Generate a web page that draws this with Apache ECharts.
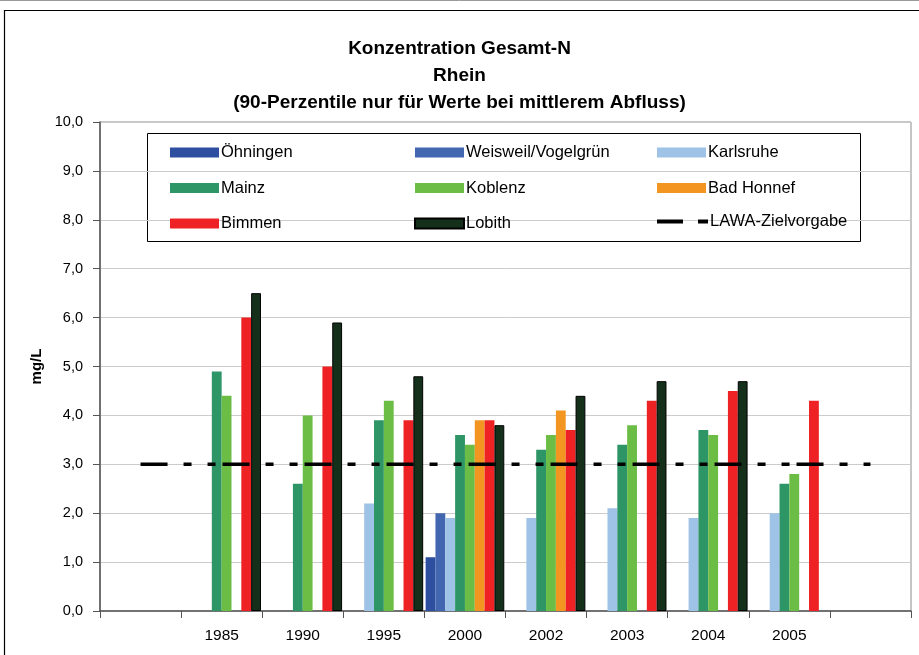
<!DOCTYPE html>
<html><head><meta charset="utf-8">
<script src="https://cdn.jsdelivr.net/npm/echarts@6/dist/echarts.min.js"></script>
<style>html,body{margin:0;padding:0;background:#fff}#c{width:919px;height:655px}</style>
</head><body><div id="c"></div>
<script>
var categories = ['', '1985', '1990', '1995', '2000', '2002', '2003', '2004', '2005', ''];
var yTicks = ['0,0','1,0','2,0','3,0','4,0','5,0','6,0','7,0','8,0','9,0','10,0'];
var oehningen = [null, null, null, null, 1.1, null, null, null, null, null];
var weisweil  = [null, null, null, null, 2.0, null, null, null, null, null];
var karlsruhe = [null, null, null, 2.2, 1.9, 1.9, 2.1, 1.9, 2.0, null];
var mainz     = [null, 4.9, 2.6, 3.9, 3.6, 3.3, 3.4, 3.7, 2.6, null];
var koblenz   = [null, 4.4, 4.0, 4.3, 3.4, 3.6, 3.8, 3.6, 2.8, null];
var badHonnef = [null, null, null, null, 3.9, 4.1, null, null, null, null];
var bimmen    = [null, 6.0, 5.0, 3.9, 3.9, 3.7, 4.3, 4.5, 4.3, null];
var lobith    = [null, 6.5, 5.9, 4.8, 3.8, 4.4, 4.7, 4.7, null, null];
var lawa      = [3.0, 3.0, 3.0, 3.0, 3.0, 3.0, 3.0, 3.0, 3.0, 3.0];

var FONT = '"Liberation Sans", Arial, sans-serif';
var chart = echarts.init(document.getElementById('c'));
function bar(name, data, color, border) {
  return {
    name: name, type: 'bar', data: data, barGap: '0%', barCategoryGap: '3%',
    itemStyle: border ? {color: color, borderColor: '#000', borderWidth: 1} : {color: color},
    emphasis: {disabled: true}, animation: false
  };
}
function legendCol(left, top, data, extra) {
  return Object.assign({
    orient: 'vertical', left: left, top: top, itemWidth: 49, itemHeight: 10, itemGap: 18.5,
    icon: 'rect', selectedMode: false,
    textStyle: {fontFamily: FONT, fontSize: 16.5, lineHeight: 16, color: '#000', padding: [0, 0, 0, -3]},
    data: data
  }, extra || {});
}
chart.setOption({
  animation: false,
  backgroundColor: '#fff',
  title: {
    text: 'Konzentration Gesamt-N\nRhein\n(90-Perzentile nur für Werte bei mittlerem Abfluss)',
    left: 'center', top: 30,
    textStyle: {fontFamily: FONT, fontSize: 19, fontWeight: 'bold', lineHeight: 27, color: '#000'}
  },
  legend: [
    legendCol(165, 139, ['Öhningen', 'Mainz', 'Bimmen']),
    legendCol(409, 139, ['Weisweil/Vogelgrün', 'Koblenz', 'Lobith']),
    legendCol(652, 139, ['Karlsruhe', 'Bad Honnef']),
    legendCol(652, 208, ['LAWA-Zielvorgabe'], {
      icon: 'path://M0,0H26V4H0Z M41,0H51V4H41Z', itemWidth: 51, itemHeight: 4
    })
  ],
  grid: {left: 100, right: 8, top: 122, bottom: 44, show: true, borderColor: '#8c8c8c', borderWidth: 1},
  xAxis: {
    type: 'category', data: categories, boundaryGap: true,
    axisLine: {lineStyle: {color: '#555', width: 1.5}},
    axisTick: {show: true, length: 7, inside: false, lineStyle: {color: '#555'}},
    axisLabel: {fontFamily: FONT, fontSize: 15.5, color: '#000', margin: 17, interval: 0}
  },
  yAxis: {
    type: 'value', min: 0, max: 10, interval: 1,
    name: 'mg/L', nameLocation: 'middle', nameGap: 52, nameRotate: 90,
    nameTextStyle: {fontFamily: FONT, fontSize: 15, fontWeight: 'bold', color: '#000'},
    axisLine: {show: true, lineStyle: {color: '#555', width: 1.5}},
    axisTick: {show: true, length: 7, lineStyle: {color: '#555'}},
    axisLabel: {fontFamily: FONT, fontSize: 14.5, color: '#000', margin: 17,
      formatter: function (v) { return yTicks[Math.round(v)]; }},
    splitLine: {lineStyle: {color: '#cccccc', width: 1}}
  },
  series: [
    bar('Öhningen', oehningen, '#2e4fa0'),
    bar('Weisweil/Vogelgrün', weisweil, '#4366b0'),
    bar('Karlsruhe', karlsruhe, '#9ec3e6'),
    bar('Mainz', mainz, '#2e9566'),
    bar('Koblenz', koblenz, '#6bbd45'),
    bar('Bad Honnef', badHonnef, '#f39621'),
    bar('Bimmen', bimmen, '#ee2224'),
    bar('Lobith', lobith, '#15301a', true),
    {
      name: 'LAWA-Zielvorgabe', type: 'line', data: lawa, symbol: 'none', z: 5,
      lineStyle: {color: '#000', width: 3.5, type: [27, 16, 8, 16, 8, 7]},
      itemStyle: {color: '#000'}, emphasis: {disabled: true}
    }
  ],
  graphic: [
    {type: 'rect', shape: {x: 147.5, y: 133.5, width: 713, height: 108}, style: {fill: 'none', stroke: '#000', lineWidth: 1}, z: -1},
    {type: 'rect', shape: {x: 4.5, y: 10.5, width: 930, height: 660}, style: {fill: 'none', stroke: '#000', lineWidth: 1.2}, z: -1},
    {type: 'line', shape: {x1: 0, y1: 0.5, x2: 919, y2: 0.5}, style: {stroke: '#999', lineWidth: 1}}
  ]
});
</script></body></html>
